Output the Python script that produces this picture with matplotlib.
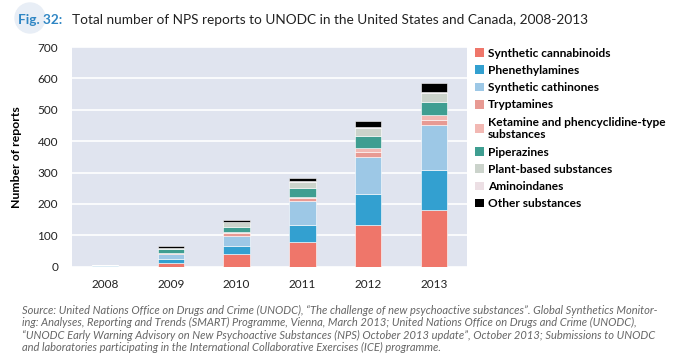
"""Total number of NPS reports to UNODC in the United States and Canada, 2008-2013."""

import matplotlib

matplotlib.use("Agg")
import matplotlib.pyplot as plt
import numpy as np
from matplotlib.patches import Ellipse

years = ["2008", "2009", "2010", "2011", "2012", "2013"]

synthetic_cannabinoids = [0, 13, 42, 78, 133, 180]
phenethylamines = [1, 12, 23, 54, 98, 129]
synthetic_cathinones = [3, 15, 34, 76, 119, 141]
tryptamines = [0, 3, 8, 10, 17, 18]
ketamine_pcp = [0, 2, 4, 5, 11, 16]
piperazines = [0, 10, 17, 27, 38, 42]
plant_based = [0, 5, 14, 20, 26, 27]
aminoindanes = [0, 1, 1, 2, 2, 3]
other_substances = [0, 5, 7, 12, 20, 29]

series_labels = [
    "Synthetic cannabinoids",
    "Phenethylamines",
    "Synthetic cathinones",
    "Tryptamines",
    "Ketamine and phencyclidine-type\nsubstances",
    "Piperazines",
    "Plant-based substances",
    "Aminoindanes",
    "Other substances",
]
series_colors = [
    "#ef766a", "#33a0d0", "#9dc8e6", "#e89a93", "#f2b8b3",
    "#3f9e91", "#cbd3cb", "#ecdfe4", "#000000",
]

TITLE = "Total number of NPS reports to UNODC in the United States and Canada, 2008-2013"
SOURCE_LINES = [
    "Source: United Nations Office on Drugs and Crime (UNODC), \u201cThe challenge of new psychoactive substances\u201d. "
    "Global Synthetics Monitor-",
    "ing: Analyses, Reporting and Trends (SMART) Programme, Vienna, March 2013; United Nations Office on Drugs and Crime (UNODC),",
    "\u201cUNODC Early Warning Advisory on New Psychoactive Substances (NPS) October 2013 update\u201d, October 2013; "
    "Submissions to UNODC",
    "and laboratories participating in the International Collaborative Exercises (ICE) programme.",
]

W, H = 675, 362
fig = plt.figure(figsize=(W / 100, H / 100), dpi=100)
fig.patch.set_facecolor("white")
renderer = fig.canvas.get_renderer()


def fit_width(text, target_px):
    # shrink/grow the font so the text spans the same width as in the reference
    width = text.get_window_extent(renderer).width
    text.set_fontsize(text.get_fontsize() * target_px / width)


# axes placed in pixel terms of the reference
left, right, top, bottom = 72, 467, 47, 266.7
ax = fig.add_axes([left / W, 1 - bottom / H, (right - left) / W, (bottom - top) / H])
ax.set_facecolor("#e0e4ef")

series = [
    synthetic_cannabinoids, phenethylamines, synthetic_cathinones, tryptamines,
    ketamine_pcp, piperazines, plant_based, aminoindanes, other_substances,
]
x = np.arange(len(years))
base = np.zeros(len(years))
for values, label, color in zip(series, series_labels, series_colors):
    ax.bar(x, values, width=0.4, bottom=base, color=color, label=label,
           edgecolor="white", linewidth=0.4, zorder=3)
    base += np.asarray(values)

ax.set_xlim(-0.5, len(years) - 0.5)
ax.set_ylim(0, 700)
ax.set_yticks(range(0, 701, 100))
ax.set_xticks(x, labels=years)
ax.grid(axis="y", color="white", linewidth=1.2, zorder=0)
for spine in ax.spines.values():
    spine.set_visible(False)
ax.tick_params(axis="both", length=0, labelsize=8.5, labelcolor="#222222")
ax.tick_params(axis="y", pad=10)
ax.tick_params(axis="x", pad=9)
for lbl in ax.get_xticklabels() + ax.get_yticklabels():
    lbl.set_family("Lato")
ax.set_ylabel("Number of reports", fontsize=8.8, fontweight="bold", family="Lato", labelpad=11)

legend = ax.legend(
    loc="upper left", bbox_to_anchor=(470 / W, 1 - 43 / H), bbox_transform=fig.transFigure,
    frameon=False, handlelength=0.75, handleheight=0.75, handletextpad=0.35,
    labelspacing=0.52, borderaxespad=0, prop={"family": "Lato", "weight": "bold", "size": 8.6},
)
for handle in legend.legend_handles:
    handle.set_edgecolor("none")

# title with a faint circle behind "Fig."
fig.patches.append(Ellipse((30 / W, 1 - 18 / H), 30 / W, 30 / H, transform=fig.transFigure,
                           color="#e8eef6", zorder=0))
fig_label = fig.text(18 / W, 1 - 20 / H, "Fig. 32:", fontsize=10, fontweight="bold",
                     color="#2f86c4", family="Lato", va="center")
fit_width(fig_label, 44)
title = fig.text(72 / W, 1 - 20 / H, TITLE, fontsize=10, color="#222222", family="Lato", va="center")
fit_width(title, 513)

source = fig.text(22 / W, 1 - 305 / H, "\n".join(SOURCE_LINES), fontsize=7.5, style="italic",
                  color="#666666", family="Lato", va="top", linespacing=1.15)
fit_width(source, 632)

fig.savefig("out.png", dpi=100)
